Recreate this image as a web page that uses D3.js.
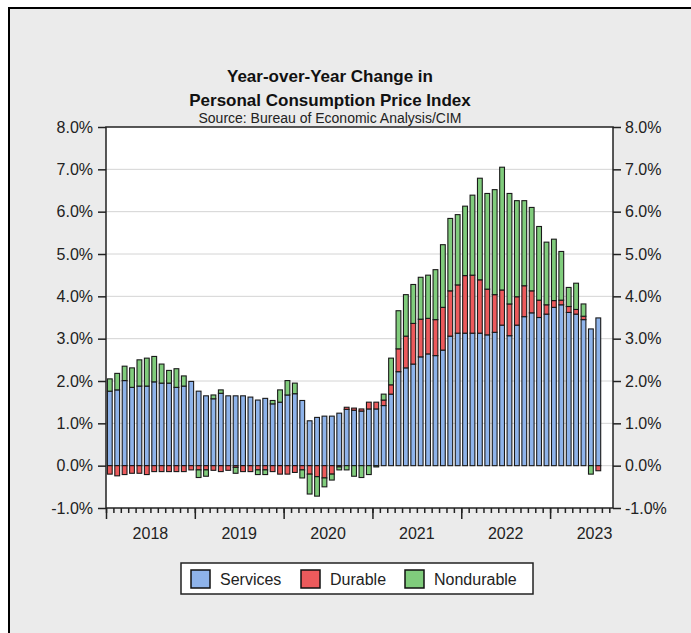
<!DOCTYPE html>
<html>
<head>
<meta charset="utf-8">
<script src="https://cdn.jsdelivr.net/npm/d3@7"></script>
<style>
	body { margin: 0; background: #ffffff; }
	svg { display: block; font-family: "Liberation Sans", Arial, sans-serif; }
</style>
</head>
<body>
<div class="pce-chart"></div>
<script>

	/* ---------------------------------
		Data (monthly, Jan 2018 - Jul 2023)
	------------------------------------*/

	var years = ["2018", "2019", "2020", "2021", "2022", "2023"];

	var services = [
		1.76, 1.79, 2.01, 1.85, 1.88, 1.88, 1.98, 1.95, 1.95, 1.85, 1.88, 1.99,
		1.76, 1.65, 1.58, 1.71, 1.65, 1.65, 1.65, 1.62, 1.55, 1.59, 1.46, 1.50,
		1.67, 1.70, 1.54, 1.06, 1.14, 1.17, 1.17, 1.24, 1.33, 1.31, 1.29, 1.34,
		1.34, 1.42, 1.69, 2.22, 2.31, 2.40, 2.57, 2.64, 2.60, 2.73, 3.06, 3.13,
		3.13, 3.13, 3.13, 3.09, 3.15, 3.32, 3.07, 3.32, 3.52, 3.61, 3.50, 3.58,
		3.74, 3.80, 3.62, 3.58, 3.45, 3.23, 3.49
	];

	var durable = [
		-0.20, -0.24, -0.21, -0.18, -0.18, -0.21, -0.14, -0.14, -0.14, -0.14, -0.14, -0.10,
		-0.10, -0.10, -0.11, -0.14, -0.11, -0.04, -0.14, -0.14, -0.10, -0.10, -0.14, -0.20,
		-0.20, -0.16, -0.10, -0.20, -0.26, -0.29, -0.20, -0.03, 0.05, 0.05, 0.05, 0.16,
		0.16, 0.13, 0.22, 0.54, 0.75, 0.96, 0.89, 0.84, 0.85, 1.01, 1.07, 1.14,
		1.36, 1.37, 1.26, 1.08, 0.89, 0.83, 0.75, 0.67, 0.73, 0.52, 0.41, 0.22,
		0.16, 0.11, 0.14, 0.11, 0.08, 0.00, -0.12
	];

	var nondurable = [
		0.29, 0.39, 0.34, 0.46, 0.62, 0.66, 0.60, 0.45, 0.30, 0.44, 0.24, 0.00,
		-0.18, -0.15, 0.09, 0.08, 0.00, -0.14, 0.00, 0.00, -0.11, -0.11, 0.08, 0.29,
		0.34, 0.25, -0.19, -0.47, -0.46, -0.21, -0.14, -0.07, -0.10, -0.25, -0.28, -0.21,
		-0.03, 0.14, 0.63, 0.90, 0.98, 0.92, 0.99, 1.02, 1.18, 1.48, 1.71, 1.66,
		1.64, 1.89, 2.40, 2.26, 2.48, 2.90, 2.61, 2.27, 2.01, 1.97, 1.74, 1.48,
		1.45, 1.15, 0.45, 0.62, 0.29, -0.20, 0.00
	];

	var seriesNames = ["Services", "Durable", "Nondurable"];
	var yTicks = [-1, 0, 1, 2, 3, 4, 5, 6, 7, 8];


	/* ---------------------------------
		Setup
	------------------------------------*/

	var w = 691;
	var h = 633;
	var plotLeft = 106, plotRight = 613, plotTop = 127, plotBottom = 508;
	var colors = { Services: "#8eb3ea", Durable: "#ec5a5c", Nondurable: "#80cc7c" };

	var xScale = d3.scaleLinear()
		.domain([0, 68.5])
		.range([plotLeft, plotRight]);

	var yScale = d3.scaleLinear()
		.domain([-1, 8])
		.range([plotBottom, plotTop]);

	// plain hyphen for negatives, like the original
	var fmt = function(d) { return (d < 0 ? "-" : "") + Math.abs(d).toFixed(1) + "%"; };

	var svg = d3.select(".pce-chart")
		.append("svg")
		.attr("width", w)
		.attr("height", h);

	// outer frame
	svg.append("rect")
		.attr("x", 9).attr("y", 8)
		.attr("width", w + 20).attr("height", h + 20)
		.attr("fill", "#ebebeb")
		.attr("stroke", "#000")
		.attr("stroke-width", 2);

	// plot background
	svg.append("rect")
		.attr("x", plotLeft).attr("y", plotTop)
		.attr("width", plotRight - plotLeft).attr("height", plotBottom - plotTop)
		.attr("fill", "#ffffff");

	// gridlines
	svg.append("g")
		.selectAll("line")
		.data(yTicks.filter(function(d) { return d > -1 && d < 8; }))
		.enter()
		.append("line")
		.attr("x1", plotLeft).attr("x2", plotRight)
		.attr("y1", function(d) { return yScale(d); })
		.attr("y2", function(d) { return yScale(d); })
		.attr("stroke", "#d4d4d4")
		.attr("stroke-width", 1);


	/* ---------------------------------
		Stacked bars
	------------------------------------*/

	var segments = [];
	services.forEach(function(s, i) {
		var pos = 0, neg = 0;
		[["Services", s], ["Durable", durable[i]], ["Nondurable", nondurable[i]]].forEach(function(p) {
			var v = p[1];
			if (v > 0) {
				segments.push({ i: i, name: p[0], y0: pos, y1: pos + v });
				pos += v;
			} else if (v < 0) {
				segments.push({ i: i, name: p[0], y0: neg + v, y1: neg });
				neg += v;
			}
		});
	});

	var step = xScale(1) - xScale(0);

	svg.append("g")
		.selectAll("rect")
		.data(segments)
		.enter()
		.append("rect")
		.attr("x", function(d) { return xScale(d.i) + 1.4; })
		.attr("width", step - 2.6)
		.attr("y", function(d) { return yScale(d.y1); })
		.attr("height", function(d) { return Math.max(0.5, yScale(d.y0) - yScale(d.y1)); })
		.attr("fill", function(d) { return colors[d.name]; })
		.attr("stroke", "#1a1a1a")
		.attr("stroke-width", 1.1);

	// plot border
	svg.append("rect")
		.attr("x", plotLeft).attr("y", plotTop)
		.attr("width", plotRight - plotLeft).attr("height", plotBottom - plotTop)
		.attr("fill", "none")
		.attr("stroke", "#222")
		.attr("stroke-width", 1.5);


	/* ---------------------------------
		Axes
	------------------------------------*/

	var yAxisL = d3.axisLeft(yScale).tickValues(yTicks).tickFormat(fmt).tickSize(8).tickPadding(5);
	var yAxisR = d3.axisRight(yScale).tickValues(yTicks).tickFormat(fmt).tickSize(8).tickPadding(4);

	svg.append("g")
		.attr("class", "axis")
		.attr("transform", "translate(" + plotLeft + ",0)")
		.call(yAxisL);

	svg.append("g")
		.attr("class", "axis")
		.attr("transform", "translate(" + plotRight + ",0)")
		.call(yAxisR);

	var months = d3.range(0, 69);

	svg.append("g")
		.attr("class", "axis")
		.attr("transform", "translate(0," + plotBottom + ")")
		.call(d3.axisBottom(xScale)
			.tickValues(months)
			.tickSize(5)
			.tickFormat(""));

	svg.append("g")
		.attr("class", "axis")
		.attr("transform", "translate(0," + plotBottom + ")")
		.call(d3.axisBottom(xScale)
			.tickValues(years.map(function(d, k) { return k * 12; }))
			.tickSize(11)
			.tickFormat(""));

	svg.selectAll(".axis .domain").remove();
	svg.selectAll(".axis line").attr("stroke", "#222").attr("stroke-width", 1.5);
	svg.selectAll(".axis text")
		.attr("font-size", 16)
		.attr("fill", "#222")
		.attr("font-family", "Liberation Sans, Arial, sans-serif");

	svg.append("g")
		.selectAll("text")
		.data(years)
		.enter()
		.append("text")
		.attr("x", function(d, k) { return xScale(k * 12 + 6); })
		.attr("y", 539)
		.attr("text-anchor", "middle")
		.attr("font-size", 16)
		.attr("fill", "#222")
		.text(function(d) { return d; });


	/* ---------------------------------
		Titles
	------------------------------------*/

	svg.append("text")
		.attr("x", 330).attr("y", 82)
		.attr("text-anchor", "middle")
		.attr("font-size", 17).attr("font-weight", "bold")
		.attr("fill", "#111")
		.text("Year-over-Year Change in");

	svg.append("text")
		.attr("x", 330).attr("y", 106)
		.attr("text-anchor", "middle")
		.attr("font-size", 17).attr("font-weight", "bold")
		.attr("fill", "#111")
		.text("Personal Consumption Price Index");

	svg.append("text")
		.attr("x", 330).attr("y", 123)
		.attr("text-anchor", "middle")
		.attr("font-size", 14)
		.attr("fill", "#222")
		.text("Source: Bureau of Economic Analysis/CIM");


	/* ---------------------------------
		Legend
	------------------------------------*/

	svg.append("rect")
		.attr("x", 181).attr("y", 563)
		.attr("width", 352).attr("height", 31)
		.attr("fill", "#fff")
		.attr("stroke", "#222")
		.attr("stroke-width", 1.5);

	var legendX = [191, 301, 405];

	var lg = svg.append("g")
		.selectAll("g")
		.data(seriesNames)
		.enter()
		.append("g")
		.attr("transform", function(d, k) { return "translate(" + legendX[k] + ",570)"; });

	lg.append("rect")
		.attr("width", 19).attr("height", 18)
		.attr("fill", function(d) { return colors[d]; })
		.attr("stroke", "#111")
		.attr("stroke-width", 1.5);

	lg.append("text")
		.attr("x", 29).attr("y", 15)
		.attr("font-size", 16)
		.attr("fill", "#222")
		.text(function(d) { return d; });

</script>
</body>
</html>
